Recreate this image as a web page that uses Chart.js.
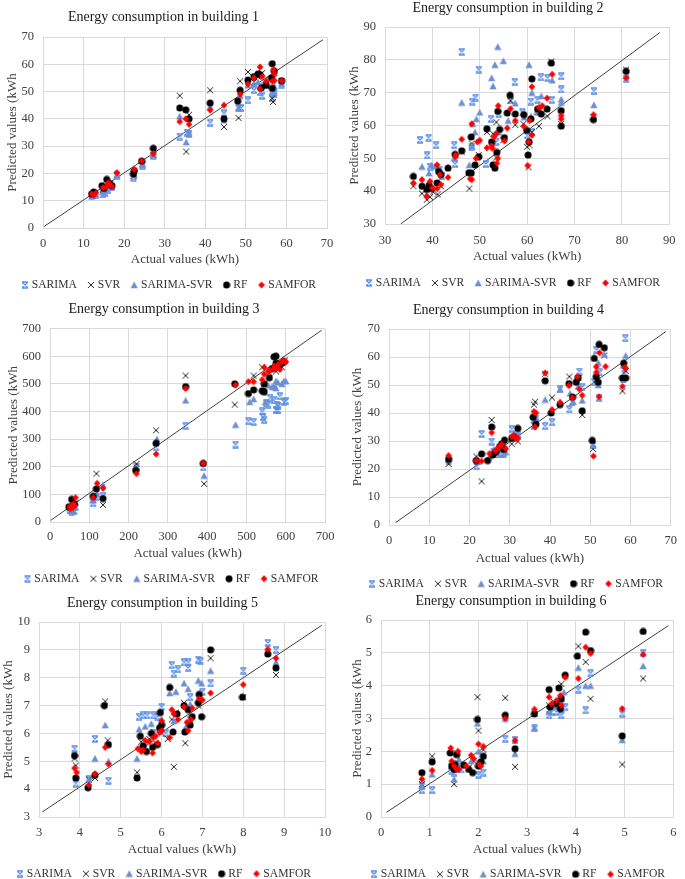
<!DOCTYPE html>
<html><head><meta charset="utf-8">
<script src="https://cdn.jsdelivr.net/npm/chart.js@4.4.0/dist/chart.umd.min.js"></script>
<style>
html,body{margin:0;padding:0;background:#fff;}
body{width:685px;height:879px;position:relative;overflow:hidden;}
.c{position:absolute;}
canvas{display:block;}
</style></head><body>
<div class="c" style="left:0px;top:0px"><canvas id="c1" width="342" height="310"></canvas></div>
<div class="c" style="left:342px;top:0px"><canvas id="c2" width="343" height="310"></canvas></div>
<div class="c" style="left:0px;top:295px"><canvas id="c3" width="342" height="310"></canvas></div>
<div class="c" style="left:342px;top:295px"><canvas id="c4" width="343" height="310"></canvas></div>
<div class="c" style="left:0px;top:585px"><canvas id="c5" width="342" height="310"></canvas></div>
<div class="c" style="left:342px;top:585px"><canvas id="c6" width="343" height="310"></canvas></div>
<script>
// ---------------- DATA ----------------
const seriesNames = ["SARIMA", "SVR", "SARIMA-SVR", "RF", "SAMFOR"];
const titles = ["Energy consumption in building 1","Energy consumption in building 2","Energy consumption in building 3","Energy consumption in building 4","Energy consumption in building 5","Energy consumption in building 6"];
const xAxisTitle = "Actual values (kWh)";
const yAxisTitle = "Predicted values (kWh";
// axis ranges [min, max, step]
const xRanges = [[0,70,10],[30,90,10],[0,700,100],[0,70,10],[3,10,1],[0,6,1]];
const yRanges = [[0,70,10],[30,90,10],[0,700,100],[0,70,10],[3,10,1],[0,6,1]];
// diagonal reference line endpoints
const diagLines = [[[0.3,0.6],[69,69]],[[33.3,30],[88,88.3]],[[2,6],[691,694]],[[1.6,0.8],[68.8,69.1]],[[3.08,3.18],[9.92,9.88]],[[0.11,0.14],[5.9,5.83]]];

// Building 1
const b1_sarima = [[12,11.8],[13,12],[14.7,12.3],[15.3,13],[16,14],[17,15],[18.2,19],[22.3,18.5],[24.5,22.8],[27.2,26.5],[33.7,33.5],[35.5,35],[36,34.5],[41.2,38.6],[44.6,42],[48.2,44],[48.8,44],[50.5,46.8],[52,50.5],[53.5,49.8],[54,48.5],[55,52.5],[56.5,47.5],[57,50],[57,49],[58.8,52.5]];
const b1_svr = [[12.2,12],[12.8,12.5],[14.8,14],[15.5,15.5],[16.5,15.5],[18.2,19.5],[22.3,19],[24.5,23.5],[27.2,26.8],[33.7,48.5],[35.3,28],[36,41.5],[41.2,50.5],[44.6,37],[48.2,40.3],[48.6,53.8],[50.5,57.2],[52,53.5],[53,55.5],[54,56.8],[55,52.5],[56.5,47.5],[56.7,46.2],[57,55],[58.8,53.8]];
const b1_sarimasvr = [[12,12.3],[13,12.5],[14.7,13.2],[15.5,14.2],[16.5,15],[18.3,19.5],[22.5,19.3],[24.5,23.2],[27.2,27],[33.7,41],[35.3,31.5],[36,35],[41.2,44.5],[44.6,39.5],[48.2,44],[48.6,48.5],[50.5,52.3],[52,53],[53,53.5],[54,52.5],[55,53.5],[56.5,50],[57,52],[58.8,53]];
const b1_rf = [[12,12.5],[12.5,13.2],[14.5,15.5],[15,14.5],[15.7,17.8],[16.5,16.3],[17,15.5],[22.3,19.8],[22.5,21],[24.3,24.5],[27.2,29.2],[33.7,44],[35.2,43.3],[36,40],[41.2,45.8],[44.6,40],[48,46.5],[48.6,50.5],[50.5,54.2],[52,55.5],[53,56.5],[53.5,56.2],[53.8,51.3],[55,52.3],[56.3,55],[56.5,60.2],[56.5,51.2],[57,57.5],[58.8,54]];
const b1_samfor = [[12,12.5],[12.5,12],[13,12.8],[14.8,14.8],[15.5,15],[16,16.5],[16.5,16],[17,15.2],[18.2,20.3],[22.5,21.5],[24.3,24.5],[27.2,27.2],[33.7,39],[35.2,40],[36,38],[41.2,43.2],[44.6,45],[48.6,49],[50.5,52.8],[52,55],[53.5,59],[53.5,51],[54,55.5],[55,53.8],[56.5,53.8],[56.8,58],[57,56.5],[57,54],[58.8,54]];

// Building 2
const b2_sarima = [[37.4,55.6],[39.2,56.3],[38.9,50.9],[40.8,54],[39.5,47.5],[41.5,46.5],[42,44.5],[44.6,54],[44.8,48.3],[46.2,82.4],[48.3,53.5],[48.4,67.3],[49.1,68.5],[49.8,77],[51.3,48.3],[52.4,62],[53.5,55],[54,63.5],[56.5,67.7],[57.4,73.3],[59,64],[60,57],[60.8,67.3],[61,58],[62.2,67.8],[62.9,74.7],[64.3,74.5],[65.2,67.8],[67.2,75],[67.2,71],[74.1,70.5],[80.9,74.2]];
const b2_svr = [[36,41.5],[37.8,39.3],[38.8,37.4],[39.5,38.2],[40.2,39.8],[41.1,39],[41.8,41.5],[47.8,40.8],[48.3,54.5],[49.8,51],[46.2,52],[51.5,58],[52.8,57.5],[53.5,61],[53.5,50.2],[55,55.5],[57.5,60.2],[56.5,67.5],[59.2,60.5],[60,53.5],[60.3,47.3],[60.5,54],[61,58],[62.5,59.8],[64.3,62.8],[65.1,79.5],[67.2,60.5],[74,62.5],[80.9,77]];
const b2_sarimasvr = [[37.8,47.5],[39.3,45.5],[39.8,48],[40.5,47.5],[41.8,46],[44.6,50],[46.2,67],[47.8,48],[48.3,53.8],[48.5,60.5],[49,58],[49.3,62],[50,64],[52.5,74.5],[52.8,72],[53.2,78.5],[53.8,84],[55,79.7],[54,58],[56,61.5],[57.5,66.8],[59.4,62.5],[60.4,78.5],[61,70],[60.8,62.8],[63,69],[62,64],[65.3,73.8],[67.2,68],[67.2,67],[74.1,66.3],[80.9,75]];
const b2_rf = [[36,44.5],[37.8,41.5],[38.8,40.5],[39.3,41.8],[39.8,40.8],[41,42.5],[41.3,46],[41.8,45],[43.3,47],[44.8,51.2],[46.2,52.3],[47.7,45.6],[48.2,45.5],[48.2,56.5],[49,48],[49.8,50.5],[51.5,59],[52.5,55],[52.8,48],[53.2,47],[53.6,51.8],[53.8,64.3],[54.2,58.8],[55.2,56.3],[55.8,63.8],[56.4,69.2],[57.5,63.5],[59.3,63.3],[59.9,58.5],[60.2,51],[60.4,55],[60.8,62],[61,74.2],[62.2,65],[63,63.5],[64.2,65],[65.1,79],[67.2,64.5],[67.2,59.8],[74,61.8],[80.9,76.5]];
const b2_samfor = [[36,42.5],[37.8,43.5],[38.8,38.5],[39.5,43],[40,41],[41,48],[41,40.8],[41.6,45],[41.8,42],[43.3,44.2],[44.9,51],[44.9,50.5],[46.2,55.8],[48,43.8],[48.3,60.5],[48.3,43.5],[49.2,50],[49.5,55],[50,55.5],[51.5,53.2],[52.5,53.8],[52.7,53],[53,56.5],[53.5,57.5],[53.6,48.5],[53.8,50],[53.9,66],[55.2,55.3],[55.8,59.2],[56.5,65.1],[57.5,61.5],[59.3,59.7],[60.1,47.8],[60.3,55],[60.5,61.5],[61,57],[61,71.8],[62.5,65.5],[63.2,66],[64.2,68.3],[65.3,75.6],[67.2,63],[67.2,62],[74,63.3],[80.9,74.5]];

// Building 3
const b3_sarima = [[50,42],[55,38],[58,45],[62,40],[65,55],[110,68],[118,90],[135,95],[220,200],[270,270],[345,348],[390,198],[472,280],[505,365],[518,362],[540,400],[542,380],[545,370],[550,430],[555,425],[560,450],[570,440],[575,405],[578,425],[580,420],[585,455],[595,435],[600,438],[580,405]];
const b3_svr = [[50,50],[56,45],[60,60],[65,70],[110,80],[118,175],[135,62],[220,210],[270,332],[345,530],[392,138],[470,425],[518,530],[540,560],[545,500],[558,540],[575,545],[590,560],[598,585]];
const b3_sarimasvr = [[52,50],[57,45],[62,55],[110,78],[120,100],[135,135],[220,195],[272,300],[345,440],[392,168],[472,352],[508,435],[518,445],[545,470],[548,435],[555,495],[565,490],[575,510],[575,485],[580,505],[590,500],[595,510],[600,510],[570,490]];
const b3_rf = [[48,55],[55,82],[58,60],[62,65],[110,93],[118,120],[135,85],[218,187],[270,285],[345,490],[390,212],[470,500],[505,465],[518,478],[540,475],[545,472],[545,500],[558,522],[565,555],[570,598],[575,600],[575,575],[580,560],[590,575],[595,580]];
const b3_samfor = [[50,55],[52,48],[55,60],[58,52],[60,65],[62,58],[65,88],[110,88],[120,140],[135,122],[220,175],[270,246],[345,483],[390,212],[472,495],[505,508],[518,508],[540,515],[545,560],[545,535],[555,545],[560,550],[570,555],[575,560],[580,570],[585,552],[590,580],[595,585],[600,580],[570,565]];

// Building 4
const b4_sarima = [[14.8,23],[21.8,21],[23,32.5],[25.5,29.8],[26,26],[27.5,25.5],[28,25.5],[28.5,25.5],[30.5,34.3],[31,31],[32,32],[36,35.5],[36.5,38],[38.8,35.3],[40.5,36.7],[42.5,48.5],[44.8,41.3],[45.5,44],[47.3,54.8],[48,49.3],[50.7,28.5],[51,51],[51.5,62.5],[52.3,54.5],[52.2,45.5],[58.2,52],[58.7,66.7],[58.5,54]];
const b4_svr = [[14.8,21.8],[21.7,24.5],[23,15.6],[25.5,37.5],[26,25],[28,27],[30.5,29],[32,29.8],[36,43],[36.3,44],[38.8,54],[40.5,45.5],[44.8,53],[47,52.5],[48,39.3],[50.7,27.2],[51.5,52],[53.5,60.5],[58,47.8],[58.8,55]];
const b4_sarimasvr = [[14.8,23.5],[22,22.5],[25,24.5],[26,27],[28,27.5],[29,26],[31,32],[32,32.5],[36,37.5],[36.5,38.5],[38.8,44.8],[42.5,48.5],[45,47],[45.8,44],[47,49.5],[48,44.5],[50.7,28.5],[52,58],[52,50],[53.5,61],[58.2,57],[58.8,60.5]];
const b4_rf = [[14.8,23.5],[21.7,23],[23,25.4],[24.5,23],[25.5,35],[25.8,25],[26.5,26],[27.5,28],[28,29],[28.5,27],[28.7,30.3],[30.5,31],[31,31.5],[32,34.5],[35.8,38.5],[36.5,36],[38.8,51.5],[40.3,40],[42.5,43],[44.7,50.5],[45.6,45.7],[46.5,51],[47,52.5],[48,40.8],[50.5,30.2],[51,59.5],[51.5,53],[52,51],[52.2,64.5],[53.5,63.3],[58,52.5],[58.3,57.8],[58.8,52.5]];
const b4_samfor = [[14.8,24.8],[21.7,23],[23,22.8],[25,25.5],[25.5,33],[26.5,26.5],[27,27.5],[27.5,28],[28,28.8],[29,27.3],[30.5,31.5],[31,32],[31.5,31],[32,31],[36,40.5],[36.3,35],[36.5,40],[38.8,54.3],[40.5,41.2],[42.5,43.8],[44.7,49.8],[45.5,45.5],[46.8,53],[47.3,48.5],[48,46.3],[50.8,24.6],[51.5,54.5],[51.5,56.5],[52.3,61.5],[52.2,45.8],[53.8,56.6],[58,49.5],[58.5,56.3],[58.8,56]];

// Building 5
const b5_sarima = [[3.87,5.45],[3.9,4.2],[4.22,4.35],[4.37,5.8],[4.7,4.3],[5.45,6.6],[5.55,6.65],[5.65,6.65],[5.8,6.65],[5.9,6.6],[6.0,6.95],[6.25,8.45],[6.3,8.15],[6.4,8.3],[6.55,8.55],[6.65,8.55],[6.65,8.35],[6.9,8.65],[6.95,8.6],[7.2,7.8],[6.7,7.3],[7.0,7.5],[5.6,5.5],[5.8,6.0],[6.1,6.0],[8.0,8.25],[8.6,9.25],[8.8,9.0]];
const b5_svr = [[3.87,5.1],[3.9,4.85],[4.22,4.35],[4.37,4.4],[4.62,7.15],[4.68,5.75],[5.4,4.6],[5.5,5.7],[5.7,5.8],[5.85,5.65],[6.0,6.0],[6.15,5.8],[6.25,6.5],[6.3,4.8],[6.35,6.75],[6.55,7.1],[6.58,5.65],[6.7,6.5],[6.9,7.0],[7.2,8.7],[8.0,7.3],[8.6,8.9],[8.8,8.1]];
const b5_sarimasvr = [[3.87,5.3],[4.22,4.35],[4.37,5.1],[4.62,6.3],[4.7,5.0],[5.4,5.1],[5.45,6.15],[5.6,6.25],[5.75,6.35],[5.95,6.8],[6.0,6.5],[6.2,7.45],[6.3,6.45],[6.35,7.5],[6.55,7.8],[6.65,7.6],[6.7,7.05],[6.9,7.9],[6.98,7.8],[7.2,8.25],[6.6,6.25],[8.8,8.55]];
const b5_rf = [[3.87,5.2],[3.9,4.4],[4.2,4.05],[4.37,4.5],[4.6,7.0],[4.7,5.6],[5.4,4.4],[5.48,5.9],[5.55,5.55],[5.63,5.35],[5.75,6.0],[5.78,5.5],[5.9,5.6],[5.95,6.2],[5.97,6.75],[6.0,6.3],[6.2,7.65],[6.28,6.05],[6.38,6.7],[6.55,7.0],[6.57,6.05],[6.65,6.85],[6.7,6.3],[6.75,6.6],[6.9,7.1],[6.92,7.4],[6.98,6.6],[7.2,9.0],[7.98,7.3],[8.6,8.85],[8.8,8.35]];
const b5_samfor = [[3.87,4.75],[3.92,4.6],[4.22,4.15],[4.37,4.55],[4.62,5.5],[4.7,4.9],[5.42,5.45],[5.5,5.35],[5.55,5.4],[5.6,5.75],[5.7,5.7],[5.78,5.3],[5.8,5.85],[5.85,5.9],[5.9,5.65],[5.95,6.05],[6.0,6.1],[6.0,6.45],[6.2,5.85],[6.25,6.85],[6.3,6.7],[6.4,6.5],[6.55,6.95],[6.62,6.4],[6.65,6.1],[6.72,6.5],[6.75,6.9],[6.92,7.25],[7.0,7.2],[7.2,7.45],[8.0,7.75],[8.6,9.02],[8.8,8.7]];

// Building 6
const b6_sarima = [[0.84,0.82],[0.84,0.95],[1.05,0.82],[1.45,1.4],[1.5,1.35],[1.55,1.45],[1.65,1.45],[2.0,1.28],[2.1,1.35],[2.0,1.6],[2.55,2.38],[2.75,2.35],[3.15,2.7],[3.45,3.1],[3.5,3.2],[3.6,3.2],[3.7,3.1],[3.7,3.3],[3.78,3.35],[4.05,3.88],[4.2,3.25],[4.3,4.38],[4.95,3.15],[5.38,5.0]];
const b6_svr = [[0.84,1.0],[1.05,1.85],[1.45,1.55],[1.5,1.0],[1.55,1.95],[1.8,1.5],[1.9,1.7],[1.98,3.65],[2.0,2.63],[2.1,2.05],[2.55,3.63],[2.75,1.53],[3.15,3.15],[3.45,3.4],[3.55,3.5],[3.7,4.05],[3.7,3.6],[4.05,5.2],[4.2,4.72],[4.3,3.6],[4.95,1.6],[5.38,4.22]];
const b6_sarimasvr = [[0.84,0.95],[1.05,1.3],[1.45,1.5],[1.5,1.15],[1.55,1.6],[1.6,1.75],[1.85,1.7],[1.98,2.85],[2.0,2.0],[2.1,1.7],[2.55,3.0],[2.75,1.93],[3.15,2.72],[3.45,3.2],[3.55,3.4],[3.7,3.5],[3.75,3.8],[4.05,4.55],[4.2,4.0],[4.3,4.0],[4.95,2.35],[5.38,4.6]];
const b6_rf = [[0.84,1.35],[1.05,1.68],[1.42,1.95],[1.45,1.55],[1.5,1.45],[1.52,1.6],[1.55,1.9],[1.7,1.58],[1.8,1.45],[1.88,1.35],[1.98,2.97],[2.0,1.55],[2.05,1.68],[2.1,1.85],[2.55,3.1],[2.75,2.08],[3.15,3.14],[3.45,3.88],[3.47,3.35],[3.6,3.45],[3.65,3.93],[3.68,3.3],[3.7,3.6],[3.78,4.32],[4.03,4.9],[4.2,5.63],[4.3,5.07],[4.95,2.47],[5.38,5.65]];
const b6_samfor = [[0.84,1.15],[1.05,1.42],[1.43,2.1],[1.45,1.7],[1.5,1.55],[1.55,1.45],[1.58,2.0],[1.6,1.45],[1.75,1.55],[1.85,1.88],[1.9,1.78],[2.0,2.22],[2.02,1.6],[2.05,1.55],[2.1,2.15],[2.55,3.0],[2.75,2.33],[3.15,3.28],[3.45,3.65],[3.5,3.45],[3.6,3.55],[3.68,3.7],[3.7,3.4],[3.78,4.25],[4.05,4.22],[4.2,5.17],[4.3,4.98],[4.95,3.3],[5.38,4.95]];

const buildings = [
  [b1_sarima,b1_svr,b1_sarimasvr,b1_rf,b1_samfor],
  [b2_sarima,b2_svr,b2_sarimasvr,b2_rf,b2_samfor],
  [b3_sarima,b3_svr,b3_sarimasvr,b3_rf,b3_samfor],
  [b4_sarima,b4_svr,b4_sarimasvr,b4_rf,b4_samfor],
  [b5_sarima,b5_svr,b5_sarimasvr,b5_rf,b5_samfor],
  [b6_sarima,b6_svr,b6_sarimasvr,b6_rf,b6_samfor]
];

// ---------------- STYLE / LAYOUT ----------------
const FONT = "'Liberation Serif','Times New Roman',serif";
const layouts = [
  {L:43,padR:15,tTop:8.6,tBot:11.6,xH:38.2,tpb:-1.6,pb:9.8, yTP:5,  xTP:8,  legDX:6.5},
  {L:43,padR:11,tTop:0,  tBot:10.2,xH:40.2,tpb:-0.6,pb:11.8,yTP:4.5,xTP:9.5,legDX:6},
  {L:50,padR:14,tTop:5.5,tBot:11.3,xH:37.9,tpb:-1.6,pb:11.1,yTP:6,  xTP:7.5,legDX:8.5},
  {L:47,padR:10,tTop:6.6,tBot:10.6,xH:39.9,tpb:-1.6,pb:6.1, yTP:8,  xTP:8,  legDX:8.5},
  {L:39,padR:17,tTop:9.9,tBot:10.3,xH:37.9,tpb:-2.2,pb:6.1, yTP:1.2,xTP:8.5,legDX:2.5},
  {L:39,padR:5, tTop:8.3,tBot:9.9, xH:38.5,tpb:-1.6,pb:5.5, yTP:8,  xTP:8.5,legDX:8}
];

// shift the legend horizontally after layout
const legendShift = {
  id:'legendShift',
  afterLayout(chart, args, opts){
    const lg=chart.legend; if(!lg) return;
    const dx=opts.dx||0;
    lg.left+=dx; lg.right+=dx;
  }
};

function marker(kind){
  const c=document.createElement('canvas');
  const s=8; c.width=s; c.height=s;
  const g=c.getContext('2d');
  if(kind===0){ // SARIMA: x with caps
    g.strokeStyle='#5B8FE8'; g.lineWidth=1.3;
    g.beginPath();
    g.moveTo(1,1); g.lineTo(7,1);
    g.moveTo(1,7); g.lineTo(7,7);
    g.moveTo(1.5,1.5); g.lineTo(6.5,6.5);
    g.moveTo(6.5,1.5); g.lineTo(1.5,6.5);
    g.stroke();
  } else if(kind===1){ // SVR: black x
    g.strokeStyle='#262626'; g.lineWidth=1;
    g.beginPath();
    g.moveTo(1,1); g.lineTo(7,7);
    g.moveTo(7,1); g.lineTo(1,7);
    g.stroke();
  } else if(kind===2){ // triangle
    g.fillStyle='#6D8ED0';
    g.beginPath(); g.moveTo(4,0.5); g.lineTo(7.6,7.3); g.lineTo(0.4,7.3); g.closePath(); g.fill();
  } else if(kind===3){ // circle
    g.fillStyle='#000';
    g.beginPath(); g.arc(4,4,3.5,0,Math.PI*2); g.fill();
  } else { // SAMFOR red diamond
    g.fillStyle='#FF0000';
    g.beginPath(); g.moveTo(4,0.5); g.lineTo(7.3,4); g.lineTo(4,7.5); g.lineTo(0.7,4); g.closePath(); g.fill();
  }
  return c;
}
const markers=[0,1,2,3,4].map(marker);
const orders=[5,4,3,2,1];

function makeChart(i){
  const lay=layouts[i];
  const xr=xRanges[i], yr=yRanges[i];
  const ds=buildings[i].map((arr,k)=>({
    label:seriesNames[k],
    data:arr.map(p=>({x:p[0],y:p[1]})),
    pointStyle:markers[k],
    pointRadius:4,
    order:orders[k],
    showLine:false
  }));
  ds.push({
    label:'',
    data:diagLines[i].map(p=>({x:p[0],y:p[1]})),
    showLine:true, pointRadius:0, borderColor:'#404040', borderWidth:1,
    order:10
  });
  new Chart(document.getElementById('c'+(i+1)),{
    type:'scatter',
    data:{datasets:ds},
    plugins:[legendShift],
    options:{
      responsive:false, animation:false, events:[],
      layout:{padding:{left:0,right:lay.padR,top:0,bottom:lay.pb}},
      plugins:{
        legendShift:{dx:lay.legDX},
        tooltip:{enabled:false},
        title:{display:true,text:titles[i],color:'#1a1a1a',
          font:{family:FONT,size:14,weight:'normal'},
          padding:{top:lay.tTop,bottom:lay.tBot}},
        legend:{display:true,position:'bottom',reverse:true,maxHeight:34,
          labels:{usePointStyle:true,pointStyleWidth:2,padding:13,color:'#333',
            font:{family:FONT,size:11.6},
            filter:(it)=>it.text!==''}}
      },
      scales:{
        x:{type:'linear',min:xr[0],max:xr[1],
          ticks:{stepSize:xr[2],color:'#404040',font:{family:FONT,size:12.5},padding:lay.xTP,autoSkip:false,maxRotation:0},
          grid:{color:'#d9d9d9',drawTicks:false},
          border:{color:'#d9d9d9'},
          title:{display:true,text:xAxisTitle,color:'#404040',font:{family:FONT,size:13},padding:{top:0,bottom:lay.tpb}},
          afterFit:(s)=>{s.height=lay.xH;}
        },
        y:{type:'linear',min:yr[0],max:yr[1],
          ticks:{stepSize:yr[2],color:'#404040',font:{family:FONT,size:12.5},padding:9,autoSkip:false},
          grid:{color:'#d9d9d9',drawTicks:false},
          border:{color:'#d9d9d9'},
          title:{display:true,text:yAxisTitle,color:'#404040',font:{family:FONT,size:13},padding:{top:lay.yTP,bottom:0}},
          afterFit:(s)=>{s.width=lay.L;}
        }
      }
    }
  });
}
for(let i=0;i<6;i++) makeChart(i);
</script>
</body></html>
